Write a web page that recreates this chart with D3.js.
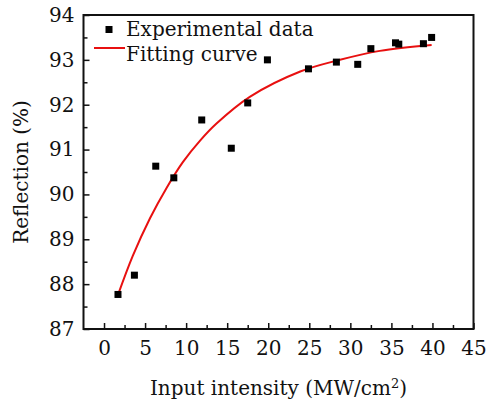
<!DOCTYPE html>
<html>
<head>
<meta charset="utf-8">
<script src="https://cdn.jsdelivr.net/npm/d3@7"></script>
<style>
  body { margin: 0; background: #fff; }
  text { font-family: "DejaVu Serif", serif; fill: #111; }
</style>
</head>
<body>
<div id="main"></div>
<script>
// measured points
const intensity = [1.7, 3.7, 6.3, 8.5, 11.9, 15.5, 17.5, 19.9, 24.9, 28.3, 30.9, 32.5, 35.5, 35.9, 38.9, 39.9];
const reflection = [87.77, 88.20, 90.63, 90.37, 91.66, 91.03, 92.04, 93.00, 92.80, 92.95, 92.90, 93.25, 93.38, 93.35, 93.36, 93.50];

// fitting curve
const fitX = [1.7, 3.5, 5.6, 7.6, 9.6, 11.7, 13.7, 17.8, 23.9, 28.5, 33.6, 39.9];
const fitY = [87.76, 88.63, 89.47, 90.14, 90.72, 91.20, 91.58, 92.18, 92.74, 92.99, 93.20, 93.33];

const xTicks = [0, 5, 10, 15, 20, 25, 30, 35, 40, 45];
const yTicks = [87, 88, 89, 90, 91, 92, 93, 94];

const W = 488, H = 402;
const pLeft = 83.5, pRight = 473.5, pTop = 15, pBottom = 329;

let svg = d3.select('#main')
  .append('svg')
  .attr('width', W)
  .attr('height', H);

const x = d3.scaleLinear().domain([-2.5, 45]).range([pLeft, pRight]);
const y = d3.scaleLinear().domain([87, 94]).range([pBottom, pTop]);

// minor ticks first (no labels)
svg.append('g')
  .attr('transform', `translate(0,${pBottom})`)
  .call(d3.axisBottom(x).tickValues(d3.range(2.5, 45, 5)).tickSize(-4).tickFormat(''))
  .call(g => g.select('.domain').remove());
svg.append('g')
  .attr('transform', `translate(${pLeft},0)`)
  .call(d3.axisLeft(y).tickValues(d3.range(87.5, 94, 1)).tickSize(-4).tickFormat(''))
  .call(g => g.select('.domain').remove());

// major ticks, inward
svg.append('g')
  .attr('transform', `translate(0,${pBottom})`)
  .call(d3.axisBottom(x).tickValues(xTicks).tickSize(-6).tickPadding(12).tickFormat(d3.format('d')))
  .call(g => g.select('.domain').remove())
  .call(g => g.selectAll('text').style('font-size', '20px').attr('fill', '#111'));
svg.append('g')
  .attr('transform', `translate(${pLeft},0)`)
  .call(d3.axisLeft(y).tickValues(yTicks).tickSize(-6).tickPadding(9).tickFormat(d3.format('d')))
  .call(g => g.select('.domain').remove())
  .call(g => g.selectAll('text').style('font-size', '20px').attr('fill', '#111'));

svg.selectAll('.tick line').attr('stroke', '#111').attr('stroke-width', 1.5);

// frame
svg.append('rect')
  .attr('x', pLeft).attr('y', pTop)
  .attr('width', pRight - pLeft).attr('height', pBottom - pTop)
  .attr('fill', 'none')
  .attr('stroke', '#111')
  .attr('stroke-width', 2);

// fitting curve
const line = d3.line()
  .x((d, i) => x(fitX[i]))
  .y(d => y(d))
  .curve(d3.curveCatmullRom.alpha(0.5));

svg.append('path')
  .datum(fitY)
  .attr('d', line)
  .attr('fill', 'none')
  .attr('stroke', '#e81010')
  .attr('stroke-width', 2);

// data squares
const sq = 7;
svg.selectAll('rect.pt')
  .data(reflection)
  .enter()
  .append('rect')
    .attr('class', 'pt')
    .attr('x', (d, i) => x(intensity[i]) - sq / 2)
    .attr('y', d => y(d) - sq / 2)
    .attr('width', sq)
    .attr('height', sq)
    .attr('fill', '#000');

// legend
svg.append('rect')
  .attr('x', 109 - sq / 2).attr('y', 29.5 - sq / 2)
  .attr('width', sq).attr('height', sq)
  .attr('fill', '#000');
svg.append('text')
  .attr('x', 126).attr('y', 36)
  .style('font-size', '20px')
  .text('Experimental data');
svg.append('line')
  .attr('x1', 94).attr('x2', 125)
  .attr('y1', 48).attr('y2', 48)
  .attr('stroke', '#e81010')
  .attr('stroke-width', 2);
svg.append('text')
  .attr('x', 126).attr('y', 61)
  .style('font-size', '20px')
  .text('Fitting curve');

// axis titles
let xt = svg.append('text')
  .attr('x', (pLeft + pRight) / 2)
  .attr('y', 395)
  .attr('text-anchor', 'middle')
  .style('font-size', '20px')
  .text('Input intensity (MW/cm');
xt.append('tspan').attr('dy', -7).style('font-size', '13px').text('2');
xt.append('tspan').attr('dy', 7).text(')');

svg.append('text')
  .attr('transform', `translate(28,${(pTop + pBottom) / 2}) rotate(-90)`)
  .attr('text-anchor', 'middle')
  .style('font-size', '20px')
  .text('Reflection (%)');
</script>
</body>
</html>
